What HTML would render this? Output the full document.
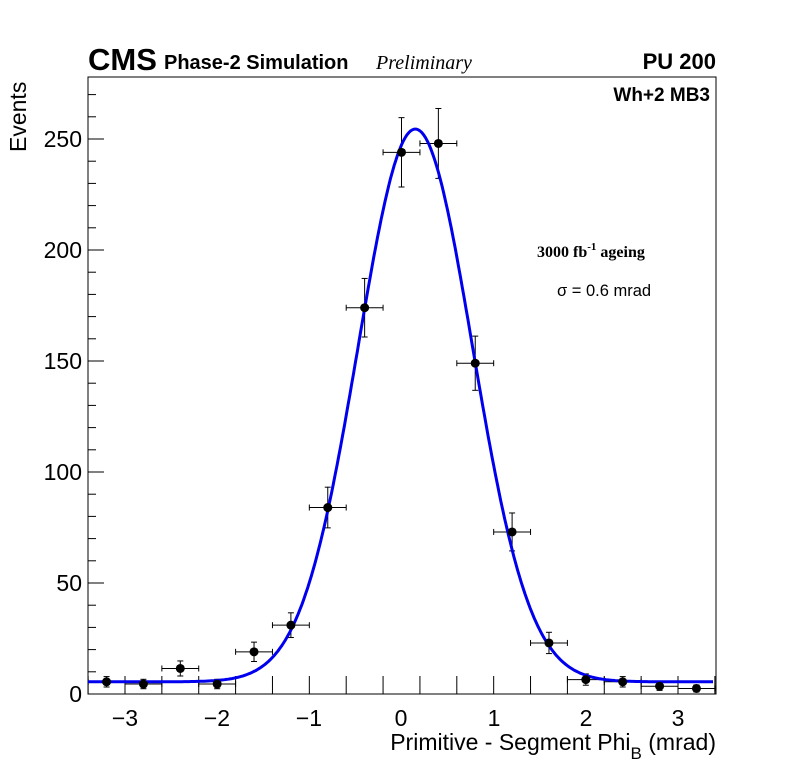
<!DOCTYPE html>
<html><head><meta charset="utf-8"><style>
body{margin:0;background:#fff}
</style></head><body>
<svg id="s" width="796" height="772" xmlns="http://www.w3.org/2000/svg" font-family="Liberation Sans, sans-serif">
<rect x="88" y="77" width="628" height="617" fill="none" stroke="#000" stroke-width="1"/>
<g id="ticks" stroke="#000" stroke-width="1"></g>
<g font-size="23" text-anchor="middle">
<text x="125" y="726">−3</text><text x="217" y="726">−2</text><text x="309" y="726">−1</text>
<text x="401" y="726">0</text><text x="494" y="726">1</text><text x="586" y="726">2</text><text x="678" y="726">3</text>
</g>
<g font-size="23" text-anchor="end">
<text x="82" y="702">0</text><text x="82" y="591">50</text><text x="82" y="480">100</text>
<text x="82" y="369">150</text><text x="82" y="258">200</text><text x="82" y="147">250</text>
</g>
<text x="716" y="750" font-size="23" text-anchor="end">Primitive - Segment Phi<tspan font-size="17" dy="9">B</tspan><tspan dy="-9"> (mrad)</tspan></text>
<text transform="translate(26,152) rotate(-90)" font-size="23">Events</text>
<text x="88" y="70" font-size="31" font-weight="bold">CMS</text>
<text x="164" y="69" font-size="20" font-weight="bold">Phase-2 Simulation</text>
<text x="376" y="69" font-size="20" style="font-family:'Liberation Serif',serif;font-style:italic">Preliminary</text>
<text x="716" y="69" font-size="22" font-weight="bold" text-anchor="end">PU 200</text>
<text x="710" y="101" font-size="19" font-weight="bold" text-anchor="end">Wh+2 MB3</text>
<text x="537" y="257" font-size="16" font-weight="bold" style="font-family:'Liberation Serif',serif">3000 fb<tspan font-size="11" dy="-7">-1</tspan><tspan dy="7"> ageing</tspan></text>
<text x="557" y="296" font-size="16.5">σ = 0.6 mrad</text>
<g id="data" stroke="#000" stroke-width="1"></g>
<path id="fit" fill="none" stroke="#0000ee" stroke-width="3"/>
<g id="pts"></g>
</svg>
<script>
var X=function(v){return 401.5+v*92.17},Y=function(v){return 694-v*2.22};
var t=document.getElementById('ticks'),h='';
for(var v=-3.4;v<3.41;v+=0.4){var x=X(v);h+='<line x1="'+x+'" y1="694" x2="'+x+'" y2="676"/>';}
for(var k=10;k<278;k+=10){var y=Y(k);h+='<line x1="88" y1="'+y+'" x2="'+(k%50?96:104)+'" y2="'+y+'"/>';}
t.innerHTML=h;
var p='';for(var v=-3.4;v<=3.4;v+=0.02){var d=v-0.15;p+=(p?'L':'M')+X(v).toFixed(1)+','+Y(249*Math.exp(-d*d/(2*0.385))+5.5).toFixed(1);}
document.getElementById('fit').setAttribute('d',p);
var D=[[-3.2,5.5],[-2.8,4.5],[-2.4,11.5],[-2,4.5],[-1.6,19],[-1.2,31],[-0.8,84],[-0.4,174],[0,244],[0.4,248],[0.8,149],[1.2,73],[1.6,23],[2,6.5],[2.4,5.5],[2.8,3.5],[3.2,2.5]];
var e='',c='';D.forEach(function(a){var x=X(a[0]),y=Y(a[1]),s=Math.sqrt(a[1]),x1=X(a[0]-0.2),x2=X(a[0]+0.2),y1=Y(a[1]+s),y2=Y(a[1]-s);
e+='<line x1="'+x1+'" y1="'+y+'" x2="'+x2+'" y2="'+y+'"/><line x1="'+x+'" y1="'+y1+'" x2="'+x+'" y2="'+y2+'"/>'+
'<line x1="'+(x-3)+'" y1="'+y1+'" x2="'+(x+3)+'" y2="'+y1+'"/><line x1="'+(x-3)+'" y1="'+y2+'" x2="'+(x+3)+'" y2="'+y2+'"/>'+
'<line x1="'+x1+'" y1="'+(y-3)+'" x2="'+x1+'" y2="'+(y+3)+'"/><line x1="'+x2+'" y1="'+(y-3)+'" x2="'+x2+'" y2="'+(y+3)+'"/>';
c+='<circle cx="'+x+'" cy="'+y+'" r="4.5" fill="#000"/>';});
document.getElementById('data').innerHTML=e;document.getElementById('pts').innerHTML=c;
</script>
</body></html>
